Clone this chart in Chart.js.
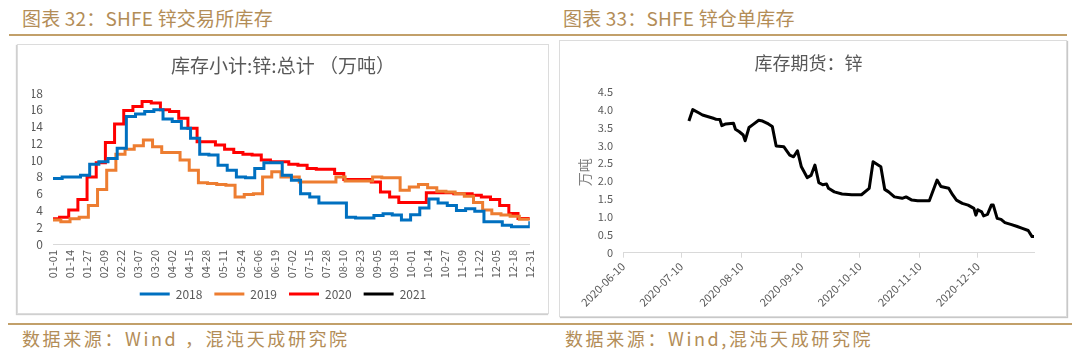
<!DOCTYPE html>
<html><head><meta charset="utf-8">
<script src="https://cdn.jsdelivr.net/npm/chart.js@4.4.1/dist/chart.umd.min.js"></script>
<style>
html,body{margin:0;padding:0;background:#fff;}
body{width:1080px;height:355px;position:relative;overflow:hidden;font-family:'Noto Sans CJK SC','Noto Sans',sans-serif;}
.hdr{position:absolute;top:7px;font-size:19px;line-height:22px;color:#b38d57;letter-spacing:0.2px;white-space:nowrap;}
.ftr{position:absolute;top:327px;font-size:18px;line-height:22px;color:#b38d57;letter-spacing:2.6px;white-space:nowrap;}
.gold{position:absolute;background:#c2a06a;height:2px;}
.box{position:absolute;border:1px solid #dcdcdc;box-sizing:border-box;background:#fff;}
canvas{position:absolute;}
</style></head>
<body>
<div class="hdr" style="left:22px">图表 32：SHFE 锌交易所库存</div>
<div class="hdr" style="left:563px">图表 33：SHFE 锌仓单库存</div>
<div class="gold" style="left:9px;top:34px;width:1058px;"></div>
<div class="box" style="left:17px;top:44px;width:532px;height:270px;box-shadow:-1px 1px 1px #d0d0d0;"></div>
<div class="box" style="left:559px;top:40px;width:508px;height:277px;box-shadow:1px 1px 1px #c8c8c8;"></div>
<div class="gold" style="left:8px;top:323px;width:1064px;"></div>
<div class="ftr" style="left:22px">数据来源：Wind ，混沌天成研究院</div>
<div class="ftr" style="left:565px">数据来源：Wind,混沌天成研究院</div>
<canvas id="c1" width="532" height="269" style="left:17px;top:44px;"></canvas>
<canvas id="c2" width="507" height="277" style="left:559px;top:40px;"></canvas>
<script>
// ---------- Left chart data (SHFE zinc exchange inventory, 万吨) ----------
const xTickLabels = ['01-01','01-14','01-27','02-09','02-22','03-07','03-20','04-02','04-15','04-28','05-11','05-24','06-06','06-19','07-02','07-15','07-28','08-10','08-23','09-05','09-18','10-01','10-14','10-27','11-09','11-22','12-05','12-18','12-31'];
const yearLabels = ['2018','2019','2020','2021'];
const yearColors = ['#0070C0','#ED7D31','#FF0000','#000000'];
// day-of-year of the first weekly update after Jan 1
const firstUpdateDay = [7, 6, 5];
// first value = Jan 1, then weekly values, last value = Dec 31
const inv2018 = [7.8,8.0,8.0,8.2,9.5,9.8,10.2,11.4,15.2,15.5,15.8,16.0,14.9,14.6,13.8,12.6,10.7,10.6,9.4,8.8,8.0,7.9,9.0,9.7,9.7,8.2,7.6,6.0,5.6,4.9,4.9,4.9,3.2,3.1,3.1,3.4,3.6,3.45,2.85,3.5,4.3,5.35,4.9,4.6,4.0,4.2,3.9,2.65,2.65,2.25,2.05,2.05,2.7];
const inv2019 = [2.85,2.65,3.0,3.2,4.6,6.5,8.8,10.7,11.3,11.7,12.4,11.6,10.9,10.9,10.0,8.8,7.3,7.2,7.1,7.0,5.6,5.9,6.0,8.0,8.6,8.0,8.0,7.4,7.4,7.4,7.4,8.0,7.5,7.5,7.5,8.0,7.9,7.9,6.4,6.8,7.1,6.7,6.3,6.2,6.0,5.7,4.95,4.05,3.6,3.45,3.3,2.95,2.95,2.95];
const inv2020 = [3.0,3.2,4.05,5.3,8.0,9.7,12.1,14.3,15.9,16.4,17.0,16.8,16.0,15.8,15.0,13.8,12.2,12.2,11.8,11.3,10.9,10.7,10.6,10.0,9.8,9.8,9.5,9.4,9.0,8.9,8.9,8.4,7.7,7.7,7.7,7.4,6.2,5.6,4.95,4.95,4.95,6.1,6.1,6.1,6.0,6.0,5.8,5.6,5.3,4.6,3.65,3.05,3.05,3.05];
const inv2021 = [];
const leftYTicks = [0,2,4,6,8,10,12,14,16,18];

// ---------- Right chart data (SHFE zinc warrant stock, 万吨) ----------
const warrantDates = ['2020-07-14','2020-07-16','2020-07-19','2020-07-21','2020-07-24','2020-07-27','2020-07-28','2020-07-30','2020-07-31','2020-08-02','2020-08-06','2020-08-07','2020-08-09','2020-08-11','2020-08-12','2020-08-14','2020-08-16','2020-08-19','2020-08-21','2020-08-24','2020-08-26','2020-08-28','2020-09-01','2020-09-04','2020-09-06','2020-09-08','2020-09-10','2020-09-13','2020-09-15','2020-09-17','2020-09-19','2020-09-21','2020-09-23','2020-09-24','2020-09-27','2020-10-01','2020-10-06','2020-10-11','2020-10-15','2020-10-17','2020-10-21','2020-10-23','2020-10-25','2020-10-28','2020-11-01','2020-11-03','2020-11-06','2020-11-09','2020-11-15','2020-11-19','2020-11-21','2020-11-25','2020-11-27','2020-11-29','2020-12-02','2020-12-05','2020-12-08','2020-12-09','2020-12-10','2020-12-12','2020-12-13','2020-12-15','2020-12-17','2020-12-18','2020-12-20','2020-12-22','2020-12-24','2020-12-27','2020-12-30','2021-01-02','2021-01-05','2021-01-07','2021-01-08'];
const warrantValues = [3.68,4.00,3.91,3.85,3.80,3.75,3.73,3.72,3.55,3.60,3.62,3.45,3.38,3.29,3.13,3.50,3.58,3.70,3.68,3.60,3.53,2.98,2.96,2.73,2.68,2.85,2.40,2.10,2.16,2.45,1.96,1.90,1.92,1.80,1.70,1.64,1.62,1.62,1.80,2.54,2.40,1.77,1.70,1.56,1.52,1.56,1.47,1.45,1.45,2.03,1.85,1.80,1.62,1.47,1.38,1.33,1.24,1.05,1.20,1.14,1.03,1.07,1.33,1.33,0.96,0.93,0.84,0.79,0.74,0.68,0.62,0.45,0.45];
const rightTickDates = ['2020-06-10','2020-07-10','2020-08-10','2020-09-10','2020-10-10','2020-11-10','2020-12-10'];
const rightAxisEnd = '2021-01-08';

// ---------- helpers ----------
const monthStart = [0,31,59,90,120,151,181,212,243,273,304,334];
function dayOfYear(mmdd){const [m,d]=mmdd.split('-').map(Number);return monthStart[m-1]+d-1;}
function weeklyPoints(vals, first){
  if(!vals.length) return [];
  const pts=[{x:0,y:vals[0]}];
  for(let i=1;i<vals.length-1;i++) pts.push({x:first+7*(i-1),y:vals[i]});
  pts.push({x:364,y:vals[vals.length-1]});
  return pts;
}
const baseDay = Date.UTC(2020,5,10);
function dayNum(s){const [y,m,d]=s.split('-').map(Number);return (Date.UTC(y,m-1,d)-baseDay)/86400000;}

// legend keeps wide item spacing but takes less vertical room
const legendShift = {
  id:'legendShift',
  afterInit(chart, args, opts){
    const lg = chart.legend; if(!lg || !opts.shrink) return;
    const fit = lg.fit.bind(lg);
    lg.fit = function(){ fit(); this.height -= opts.shrink; };
    const draw = lg.draw.bind(lg);
    lg.draw = function(){ this.ctx.save(); this.ctx.translate(0, -opts.shrink); draw(); this.ctx.restore(); };
  }
};

Chart.defaults.font.family = "'Noto Sans CJK SC','Noto Sans',sans-serif";
Chart.defaults.color = '#595959';
Chart.defaults.animation = false;

const yearSeries = [weeklyPoints(inv2018, firstUpdateDay[0]), weeklyPoints(inv2019, firstUpdateDay[1]), weeklyPoints(inv2020, firstUpdateDay[2]), inv2021];

new Chart(document.getElementById('c1'), {
  type:'line',
  data:{datasets: yearLabels.map((lab,i)=>({label:lab,data:yearSeries[i],borderColor:yearColors[i],backgroundColor:yearColors[i],borderWidth:3,pointRadius:0,stepped:true,fill:false}))},
  plugins:[legendShift],
  options:{
    responsive:false, devicePixelRatio:1,
    layout:{padding:{left:15,right:15,top:0,bottom:3}},
    plugins:{
      legendShift:{shrink:8},
      title:{display:true,text:'库存小计:锌:总计 （万吨）',color:'#595959',font:{size:19,weight:'normal'},padding:{top:10.6,bottom:15.6}},
      legend:{position:'bottom',labels:{usePointStyle:true,pointStyle:'line',pointStyleWidth:30,color:'#595959',font:{size:12},padding:12}},
      tooltip:{enabled:false}
    },
    scales:{
      x:{type:'linear',min:0,max:364,
        afterFit:s=>{s.height=40;},
        afterBuildTicks:s=>{s.ticks=xTickLabels.map(l=>({value:dayOfYear(l)}));},
        grid:{display:false,drawTicks:false},
        border:{display:true,color:'#d9d9d9',width:1},
        ticks:{autoSkip:false,maxRotation:90,minRotation:90,padding:6,font:{size:11},color:'#595959',callback:(v,i)=>xTickLabels[i]}},
      y:{min:0,max:18,
        afterFit:s=>{s.width=21;},
        afterBuildTicks:s=>{s.ticks=leftYTicks.map(v=>({value:v}));},
        grid:{display:false,drawTicks:false},
        border:{display:false},
        ticks:{autoSkip:false,padding:10,font:{size:12},color:'#595959'}}
    }
  }
});

new Chart(document.getElementById('c2'), {
  type:'line',
  data:{datasets:[{label:'库存期货：锌',data:warrantDates.map((d,i)=>({x:dayNum(d),y:warrantValues[i]})),borderColor:'#000',backgroundColor:'#000',borderWidth:3,pointRadius:0,tension:0,borderJoinStyle:'round',fill:false}]},
  options:{
    responsive:false, devicePixelRatio:1,
    layout:{padding:{left:24,right:32,top:0,bottom:0}},
    plugins:{
      title:{display:true,text:'库存期货：锌',color:'#595959',font:{size:18,weight:'normal'},padding:{top:12.2,bottom:17.9}},
      legend:{display:false},
      tooltip:{enabled:false}
    },
    scales:{
      x:{type:'linear',min:0,max:dayNum(rightAxisEnd),
        afterFit:s=>{s.height=64.3;},
        afterBuildTicks:s=>{s.ticks=rightTickDates.map(d=>({value:dayNum(d)}));},
        grid:{display:true,drawOnChartArea:false,drawTicks:true,tickLength:5,color:'#d9d9d9'},
        border:{display:true,color:'#d9d9d9',width:1},
        ticks:{autoSkip:false,maxRotation:45,minRotation:45,padding:2,font:{size:11},color:'#595959',callback:(v,i)=>rightTickDates[i]}},
      y:{min:0,max:4.5,
        afterFit:s=>{s.width=40;},
        grid:{display:false,drawTicks:false},
        border:{display:false},
        title:{display:true,text:'万吨',color:'#7f7f7f',font:{size:14},padding:{top:-6.4,bottom:0}},
        ticks:{autoSkip:false,stepSize:0.5,padding:10,font:{size:11},color:'#595959'}}
    }
  }
});
</script>
</body></html>
